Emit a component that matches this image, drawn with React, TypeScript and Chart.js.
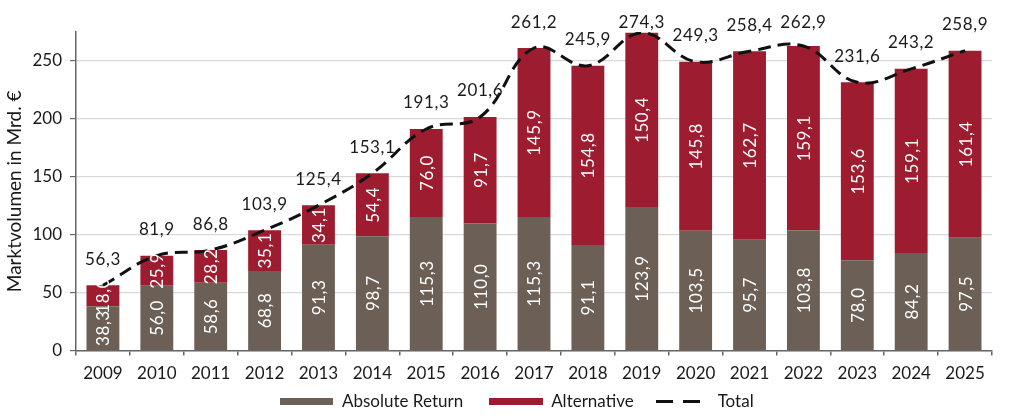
import React, { useEffect, useRef } from 'react';
import { Chart, registerables } from 'chart.js';

Chart.register(...registerables);

const years = ['2009', '2010', '2011', '2012', '2013', '2014', '2015', '2016', '2017', '2018', '2019', '2020', '2021', '2022', '2023', '2024', '2025'];
const absoluteReturn = [38.3, 56.0, 58.6, 68.8, 91.3, 98.7, 115.3, 110.0, 115.3, 91.1, 123.9, 103.5, 95.7, 103.8, 78.0, 84.2, 97.5];
const alternative = [18.0, 25.9, 28.2, 35.1, 34.1, 54.4, 76.0, 91.7, 145.9, 154.8, 150.4, 145.8, 162.7, 159.1, 153.6, 159.1, 161.4];
const total = [56.3, 81.9, 86.8, 103.9, 125.4, 153.1, 191.3, 201.6, 261.2, 245.9, 274.3, 249.3, 258.4, 262.9, 231.6, 243.2, 258.9];
const yTicks = [0, 50, 100, 150, 200, 250];

const FONT = "Lato, 'Open Sans', sans-serif";
const BROWN = '#6c6056';
const RED = '#9e1c2f';
const fmt = (v: number) => v.toFixed(1).replace('.', ',');

// white values inside the bars + totals on top
const valueLabels = {
    id: 'valueLabels',
    afterDatasetsDraw(chart: any) {
        const ctx = chart.ctx;
        ctx.save();
        ctx.font = `17px ${FONT}`;
        (ctx as any).letterSpacing = '0.6px';
        ctx.textAlign = 'center';
        ctx.textBaseline = 'middle';
        [0, 1].forEach((di) => {
            const meta = chart.getDatasetMeta(di);
            const values = chart.data.datasets[di].data as number[];
            meta.data.forEach((bar: any, i: number) => {
                const cy = (bar.y + bar.base) / 2;
                ctx.save();
                ctx.translate(bar.x, cy);
                ctx.rotate(-Math.PI / 2);
                ctx.fillStyle = '#ffffff';
                ctx.fillText(fmt(values[i]), 0, 1);
                ctx.restore();
            });
        });
        const top = chart.getDatasetMeta(1);
        ctx.fillStyle = '#1a1a1a';
        top.data.forEach((bar: any, i: number) => {
            const y = Math.max(bar.y - 26, 23);
            ctx.fillText(fmt(total[i]), bar.x, y);
        });
        ctx.restore();
    },
};

const legendText: React.CSSProperties = { fontFamily: FONT, fontSize: 17, color: '#1a1a1a', lineHeight: '20px' };

const App: React.FC = () => {
    const chartRef = useRef<HTMLCanvasElement>(null);
    const chartInstance = useRef<Chart | null>(null);

    useEffect(() => {
        if (!chartRef.current) return;
        const ctx = chartRef.current.getContext('2d');
        if (!ctx) return;
        if (chartInstance.current) chartInstance.current.destroy();

        chartInstance.current = new Chart(ctx, {
            type: 'bar',
            data: {
                labels: years,
                datasets: [
                    {
                        label: 'Absolute Return',
                        data: absoluteReturn,
                        backgroundColor: BROWN,
                        borderWidth: 0,
                        stack: 'bars',
                        order: 1,
                        categoryPercentage: 1,
                        barPercentage: 0.61,
                    },
                    {
                        label: 'Alternative',
                        data: alternative,
                        backgroundColor: RED,
                        borderWidth: 0,
                        stack: 'bars',
                        order: 1,
                        categoryPercentage: 1,
                        barPercentage: 0.61,
                    },
                    {
                        type: 'line',
                        label: 'Total',
                        data: total,
                        borderColor: '#111111',
                        backgroundColor: '#111111',
                        borderWidth: 3,
                        borderDash: [13, 7],
                        pointRadius: 0,
                        tension: 0.4,
                        stack: 'total',
                        order: 0,
                    } as any,
                ],
            },
            options: {
                responsive: true,
                maintainAspectRatio: false,
                animation: false,
                layout: { padding: { top: 32, right: 23, left: 0, bottom: 27 } },
                plugins: {
                    tooltip: { enabled: false },
                    legend: { display: false },
                },
                scales: {
                    x: {
                        stacked: true,
                        grid: {
                            display: true,
                            drawOnChartArea: false,
                            drawTicks: true,
                            tickLength: 5,
                            color: '#666666',
                            lineWidth: 1.5,
                        },
                        border: { color: '#666666', width: 1.5 },
                        ticks: {
                            font: { family: FONT, size: 17 },
                            color: '#1a1a1a',
                            padding: 8,
                            maxRotation: 0,
                        },
                    },
                    y: {
                        stacked: true,
                        min: 0,
                        max: 275,
                        afterBuildTicks: (axis: any) => {
                            axis.ticks = yTicks.map((v) => ({ value: v }));
                        },
                        afterFit: (axis: any) => {
                            axis.width = 76;
                        },
                        grid: {
                            color: '#d9d9d9',
                            lineWidth: 1.2,
                            tickColor: '#666666',
                            tickLength: 6,
                        },
                        border: { color: '#666666', width: 1.5 },
                        ticks: {
                            font: { family: FONT, size: 17 },
                            color: '#1a1a1a',
                            padding: 8,
                        },
                        title: {
                            display: true,
                            text: 'Marktvolumen in Mrd. €',
                            font: { family: FONT, size: 19 },
                            color: '#1a1a1a',
                            padding: { top: 3, bottom: 4 },
                        },
                    },
                },
            },
            plugins: [valueLabels],
        });

        return () => {
            if (chartInstance.current) {
                chartInstance.current.destroy();
                chartInstance.current = null;
            }
        };
    }, []);

    return (
        <div style={{ position: 'absolute', left: 0, top: 0, width: 1015, height: 419, background: '#ffffff' }}>
            <canvas ref={chartRef}></canvas>
            <div style={{ position: 'absolute', left: 280, top: 391, display: 'flex', alignItems: 'center', whiteSpace: 'nowrap' }}>
                <span style={{ width: 53, height: 7, background: BROWN, display: 'inline-block' }} />
                <span style={{ ...legendText, marginLeft: 9 }}>Absolute Return</span>
                <span style={{ width: 54, height: 7, background: RED, display: 'inline-block', marginLeft: 26 }} />
                <span style={{ ...legendText, marginLeft: 8 }}>Alternative</span>
                <span style={{ width: 17, height: 3, background: '#111111', display: 'inline-block', marginLeft: 22 }} />
                <span style={{ width: 17, height: 3, background: '#111111', display: 'inline-block', marginLeft: 10 }} />
                <span style={{ ...legendText, marginLeft: 18 }}>Total</span>
            </div>
        </div>
    );
};

export default App;
